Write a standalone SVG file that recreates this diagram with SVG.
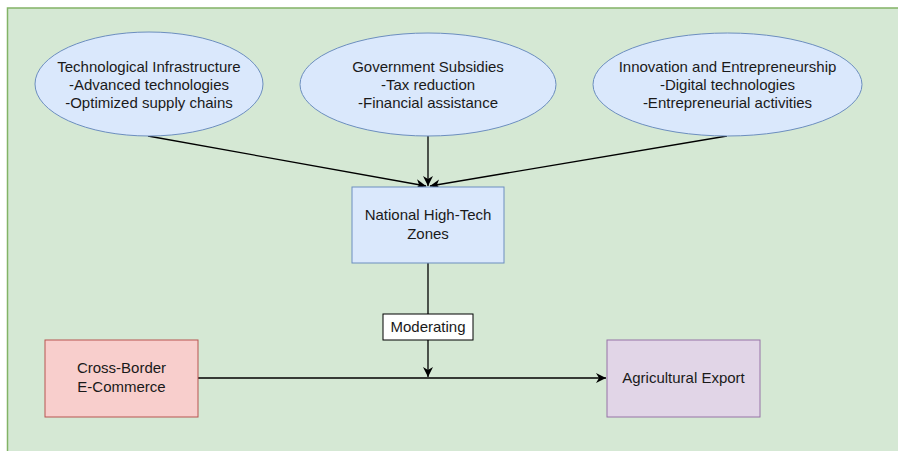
<svg xmlns="http://www.w3.org/2000/svg" width="898" height="451" viewBox="0 0 898 451">
<defs>
<marker id="ah" markerWidth="14" markerHeight="14" refX="11" refY="7" orient="auto" markerUnits="userSpaceOnUse">
<path d="M1,2 L11,7 L1,12 L4,7 Z" fill="#000"/>
</marker>
<style>
text{font-family:"Liberation Sans",Arial,sans-serif;font-size:15px;fill:#1a1a1a;text-anchor:middle}
.ell{fill:#dae8fc;stroke:#6c8ebf;stroke-width:1}
.blue{fill:#dae8fc;stroke:#6c8ebf;stroke-width:1}
.red{fill:#f8cecc;stroke:#b85450;stroke-width:1}
.purple{fill:#e1d5e7;stroke:#9673a6;stroke-width:1}
.edge{stroke:#000;stroke-width:1.3;fill:none}
</style>
</defs>
<rect x="0" y="0" width="898" height="451" fill="#ffffff"/>
<rect id="background" x="7.5" y="8" width="900" height="460" fill="#d5e8d4" stroke="#82b366" stroke-width="1.5"/>
<g id="connectors">
<line class="edge" x1="148" y1="136" x2="426" y2="186" marker-end="url(#ah)"/>
<line class="edge" x1="428" y1="136" x2="428" y2="186" marker-end="url(#ah)"/>
<line class="edge" x1="727" y1="136" x2="430" y2="186" marker-end="url(#ah)"/>
<line class="edge" x1="428" y1="263" x2="428" y2="377" marker-end="url(#ah)"/>
<line class="edge" x1="198" y1="378" x2="606" y2="378" marker-end="url(#ah)"/>
<g id="label-moderating">
<rect x="383" y="314" width="90" height="26" fill="#ffffff" stroke="#000" stroke-width="1"/>
<text x="428" y="332">Moderating</text>
</g>
</g>
<g id="tech-infra">
<ellipse class="ell" cx="149" cy="84" rx="114" ry="52"/>
<text x="149" y="72">Technological Infrastructure</text>
<text x="149" y="90">-Advanced technologies</text>
<text x="149" y="108">-Optimized supply chains</text>
</g>
<g id="gov-subsidies">
<ellipse class="ell" cx="428" cy="84.5" rx="128" ry="51.5"/>
<text x="428" y="72">Government Subsidies</text>
<text x="428" y="90">-Tax reduction</text>
<text x="428" y="108">-Financial assistance</text>
</g>
<g id="innovation">
<ellipse class="ell" cx="727.5" cy="84.5" rx="134.5" ry="51.5"/>
<text x="727.5" y="72">Innovation and Entrepreneurship</text>
<text x="727.5" y="90">-Digital technologies</text>
<text x="727.5" y="108">-Entrepreneurial activities</text>
</g>
<g id="nhtz">
<rect class="blue" x="352" y="187" width="152" height="76"/>
<text x="428" y="220">National High-Tech</text>
<text x="428" y="239">Zones</text>
</g>
<g id="cbec">
<rect class="red" x="45" y="340" width="153" height="77"/>
<text x="121.5" y="373">Cross-Border</text>
<text x="121.5" y="392">E-Commerce</text>
</g>
<g id="agri-export">
<rect class="purple" x="607" y="340" width="153" height="77"/>
<text x="683.5" y="383">Agricultural Export</text>
</g>
</svg>
